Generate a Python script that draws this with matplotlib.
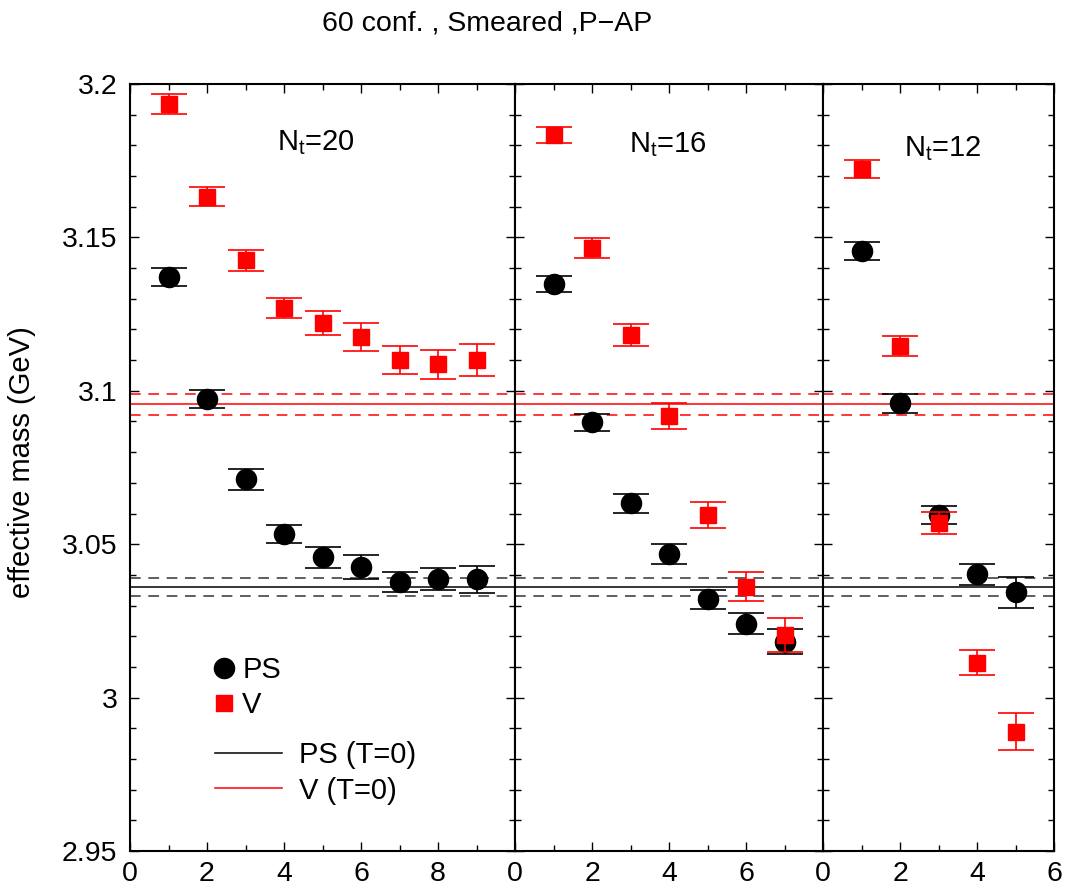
import matplotlib
matplotlib.use("Agg")
import matplotlib.pyplot as plt
from matplotlib.ticker import MultipleLocator, FixedLocator
from matplotlib.lines import Line2D

plt.rcParams['font.family'] = ['Liberation Sans', 'DejaVu Sans']
plt.rcParams['mathtext.fontset'] = 'custom'
plt.rcParams['mathtext.rm'] = 'Liberation Sans'
plt.rcParams['mathtext.it'] = 'Liberation Sans'

# ---- data ----
nt_labels = ["20", "16", "12"]
xmax = [10, 8, 6]

x20 = [1, 2, 3, 4, 5, 6, 7, 8, 9]
ps20 = [3.137, 3.0973, 3.0711, 3.0533, 3.0457, 3.0427, 3.0377, 3.0388, 3.0385]
ps20_err = [0.0030, 0.0029, 0.0033, 0.0030, 0.0033, 0.0039, 0.0034, 0.0036, 0.0045]
v20 = [3.1935, 3.1633, 3.1426, 3.1269, 3.1220, 3.1176, 3.1100, 3.1086, 3.1100]
v20_err = [0.0033, 0.0032, 0.0034, 0.0033, 0.0039, 0.0045, 0.0046, 0.0047, 0.0052]

x16 = [1, 2, 3, 4, 5, 6, 7]
ps16 = [3.1348, 3.0898, 3.0633, 3.0468, 3.0320, 3.0241, 3.0182]
ps16_err = [0.0027, 0.0028, 0.0030, 0.0034, 0.0030, 0.0034, 0.0040]
v16 = [3.1834, 3.1466, 3.1182, 3.0918, 3.0595, 3.0362, 3.0204]
v16_err = [0.0027, 0.0032, 0.0036, 0.0041, 0.0041, 0.0046, 0.0056]

x12 = [1, 2, 3, 4, 5]
ps12 = [3.1456, 3.0959, 3.0595, 3.0402, 3.0343]
ps12_err = [0.0029, 0.0031, 0.0030, 0.0034, 0.0050]
v12 = [3.1724, 3.1146, 3.0568, 3.0114, 2.9889]
v12_err = [0.0029, 0.0033, 0.0036, 0.0041, 0.0060]

ps_T0 = 3.0360
ps_T0_err = 0.0030
v_T0 = 3.0956
v_T0_err = 0.0035

panels = [
    (x20, ps20, ps20_err, v20, v20_err),
    (x16, ps16, ps16_err, v16, v16_err),
    (x12, ps12, ps12_err, v12, v12_err),
]
xtick_sets = [[0, 2, 4, 6, 8], [0, 2, 4, 6], [0, 2, 4, 6]]

fig = plt.figure(figsize=(10.66, 8.88), dpi=100)
gs = fig.add_gridspec(1, 3, width_ratios=xmax, wspace=0,
                      left=130/1066, right=1054/1066, bottom=1-851/888, top=1-84/888)

FS = 21
TFS = 20.5
axes = []
for i, (xs, ps, pse, v, ve) in enumerate(panels):
    ax = fig.add_subplot(gs[0, i])
    axes.append(ax)
    ax.set_xlim(0, xmax[i])
    ax.set_ylim(2.95, 3.2)
    # T=0 bands
    ax.axhline(ps_T0, color='black', lw=1.1, zorder=1)
    ax.axhline(ps_T0 + ps_T0_err, color='#333333', lw=1.1, dashes=(7, 5), zorder=1)
    ax.axhline(ps_T0 - ps_T0_err, color='#333333', lw=1.1, dashes=(7, 5), zorder=1)
    ax.axhline(v_T0, color='red', lw=1.1, zorder=1)
    ax.axhline(v_T0 + v_T0_err, color='red', lw=1.1, dashes=(7, 5), zorder=1)
    ax.axhline(v_T0 - v_T0_err, color='red', lw=1.1, dashes=(7, 5), zorder=1)
    ax.errorbar(xs, ps, yerr=pse, fmt='o', color='black', ms=14.5, capsize=13,
                elinewidth=1.2, capthick=1.2, zorder=3)
    ax.errorbar(xs, v, yerr=ve, fmt='s', color='red', ms=11.5, capsize=13,
                elinewidth=1.2, capthick=1.2, zorder=4)
    ax.xaxis.set_major_locator(FixedLocator(xtick_sets[i]))
    ax.xaxis.set_minor_locator(MultipleLocator(1))
    ax.yaxis.set_major_locator(MultipleLocator(0.05))
    ax.yaxis.set_minor_locator(MultipleLocator(0.01))
    ax.tick_params(which='both', direction='in', top=True, right=True, labelsize=TFS)
    ax.tick_params(which='major', length=6.5, width=1)
    ax.tick_params(which='minor', length=4.3, width=1)
    ax.tick_params(axis='x', pad=7.5)
    ax.tick_params(axis='y', pad=9)
    if i > 0:
        ax.tick_params(axis='y', labelleft=False)
    for s in ax.spines.values():
        s.set_linewidth(1.5)
    ax.yaxis.set_major_formatter(plt.FuncFormatter(lambda val, pos: ('%g' % round(val, 3))))

txt_pos = [(0.381, 0.914), (0.369, 0.911), (0.352, 0.906)]
for ax, lab, (tx, ty) in zip(axes, nt_labels, txt_pos):
    ax.text(tx, ty, r'N$_{\rm t}$=' + lab, transform=ax.transAxes, fontsize=FS,
            ha='left', va='baseline')

ax0 = axes[0]
h1 = [Line2D([], [], ls='none', marker='o', color='black', ms=14.5),
      Line2D([], [], ls='none', marker='s', color='red', ms=11.5)]
leg1 = ax0.legend(h1, ['PS', 'V'], loc='center left', bbox_to_anchor=(0.2186, 0.213),
                  frameon=False, fontsize=FS, handlelength=0.7, handletextpad=0.26,
                  borderpad=0, borderaxespad=0, labelspacing=0.25)
ax0.add_artist(leg1)
h2 = [Line2D([], [], color='black', lw=1.1), Line2D([], [], color='red', lw=1.1)]
ax0.legend(h2, ['PS (T=0)', 'V (T=0)'], loc='center left', bbox_to_anchor=(0.221, 0.1017),
           frameon=False, fontsize=FS, handlelength=2.29, handletextpad=0.59,
           borderpad=0, borderaxespad=0, labelspacing=0.25)

fig.text(487/1066, 1-23/888, '60 conf. , Smeared ,P\u2212AP', ha='center', va='center', fontsize=TFS)
fig.text(22/1066, 1-462/888, 'effective mass (GeV)', ha='center', va='center',
         rotation=90, fontsize=FS)

fig.savefig('out.png', dpi=100)
